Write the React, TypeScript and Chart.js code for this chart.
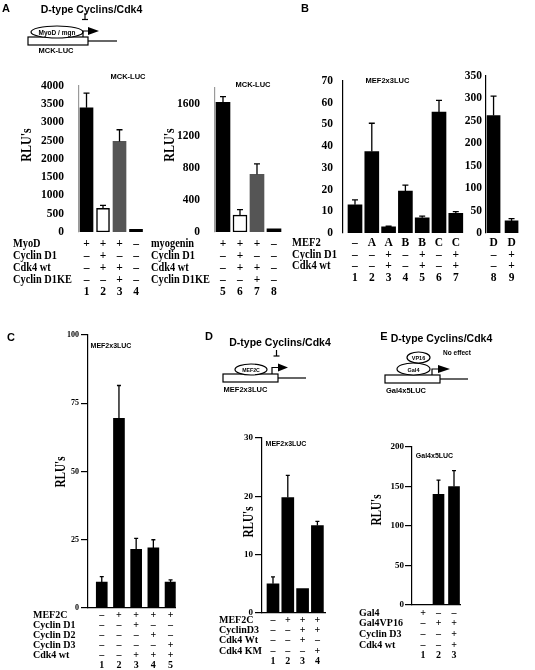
import React, { useEffect, useRef } from "react";
import { Chart, registerables } from "chart.js";

Chart.register(...registerables);

const SERIF = '"Liberation Serif", "Times New Roman", Times, serif';
const SANS = '"Liberation Sans", Arial, Helvetica, sans-serif';
const M = "–";

// ---------- Panel A, left chart: MCK-LUC with MyoD ----------
const a1RowLabels = ["MyoD", "Cyclin D1", "Cdk4 wt", "Cyclin D1KE"];
const a1Rows = [
  ["+", "+", "+", M],
  [M, "+", M, M],
  [M, "+", "+", M],
  [M, M, "+", M],
];
const a1Lanes = ["1", "2", "3", "4"];
const a1Values = [3400, 650, 2480, 70];
const a1Errors: (number | null)[] = [3800, 730, 2800, null];
const a1YTicks = [0, 500, 1000, 1500, 2000, 2500, 3000, 3500, 4000];

// ---------- Panel A, right chart: MCK-LUC with myogenin ----------
const a2RowLabels = ["myogenin", "Cyclin D1", "Cdk4 wt", "Cyclin D1KE"];
const a2Rows = [
  ["+", "+", "+", M],
  [M, "+", M, M],
  [M, "+", "+", M],
  [M, M, "+", M],
];
const a2Lanes = ["5", "6", "7", "8"];
const a2Values = [1620, 210, 720, 40];
const a2Errors: (number | null)[] = [1690, 280, 850, null];
const a2YTicks = [0, 400, 800, 1200, 1600];
const a2YMax = 1800;

// ---------- Panel B, left chart: MEF2x3LUC ----------
const b1RowLabels = ["MEF2", "Cyclin D1", "Cdk4 wt"];
const b1Rows = [
  [M, "A", "A", "B", "B", "C", "C"],
  [M, M, "+", M, "+", M, "+"],
  [M, M, "+", M, "+", M, "+"],
];
const b1Lanes = ["1", "2", "3", "4", "5", "6", "7"];
const b1Values = [13, 37.5, 2.8, 19.3, 7, 55.7, 9];
const b1Errors: (number | null)[] = [15.2, 50.5, 3.1, 22, 7.8, 61, 9.8];
const b1YTicks = [0, 10, 20, 30, 40, 50, 60, 70];

// ---------- Panel B, right chart: MEF2D ----------
const b2Rows = [
  ["D", "D"],
  [M, "+"],
  [M, "+"],
];
const b2Lanes = ["8", "9"];
const b2Values = [262, 27];
const b2Errors: (number | null)[] = [305, 32];
const b2YTicks = [0, 50, 100, 150, 200, 250, 300, 350];

// ---------- Panel C: MEF2x3LUC with MEF2C ----------
const cRowLabels = ["MEF2C", "Cyclin D1", "Cyclin D2", "Cyclin D3", "Cdk4 wt"];
const cRows = [
  [M, "+", "+", "+", "+"],
  [M, M, "+", M, M],
  [M, M, M, "+", M],
  [M, M, M, M, "+"],
  [M, M, "+", "+", "+"],
];
const cLanes = ["1", "2", "3", "4", "5"];
const cValues = [9.5, 69.5, 21.5, 22, 9.5];
const cErrors: (number | null)[] = [11.5, 81.5, 25.5, 25, 10.3];
const cYTicks = [0, 25, 50, 75, 100];

// ---------- Panel D: MEF2x3LUC, CyclinD3 / Cdk4 ----------
const dRowLabels = ["MEF2C", "CyclinD3", "Cdk4 Wt", "Cdk4 KM"];
const dRows = [
  [M, "+", "+", "+"],
  [M, M, "+", "+"],
  [M, M, "+", M],
  [M, M, M, "+"],
];
const dLanes = ["1", "2", "3", "4"];
const dValues = [5, 19.8, 4.2, 15];
const dErrors: (number | null)[] = [6.2, 23.6, null, 15.7];
const dYTicks = [0, 10, 20, 30];

// ---------- Panel E: Gal4x5LUC ----------
const eRowLabels = ["Gal4", "Gal4VP16", "Cyclin D3", "Cdk4 wt"];
const eRows = [
  ["+", M, M],
  [M, "+", "+"],
  [M, M, "+"],
  [M, M, "+"],
];
const eLanes = ["1", "2", "3"];
const eValues = [0, 140, 150];
const eErrors: (number | null)[] = [null, 158, 170];
const eYTicks = [0, 50, 100, 150, 200];

type Spec = {
  left: number;
  top: number;
  width: number;
  height: number;
  axisX: number;
  yTopPx: number;
  zeroPx: number;
  xMin: number;
  xMax: number;
  pitch: number;
  yMax: number;
  yTicks: number[];
  values: number[];
  errors: (number | null)[];
  colors: string[];
  borderWidths: number[];
  rows: string[][];
  lanes: string[];
  rowLabels: string[];
  rowLabelX: number;
  rowScaleX: number;
  fontSize: number;
  lineHeight: number;
  tickPad: number;
  yFont: number;
  yPad: number;
  yTickLen: number;
  yAxisColor: string;
  xAxisLine: boolean;
  barThickness: number;
  capW: number;
};

function BarPanel({ s }: { s: Spec }) {
  const ref = useRef<HTMLCanvasElement | null>(null);
  useEffect(() => {
    if (!ref.current) return;
    const rightPx = s.axisX + (s.xMax - s.xMin) * s.pitch;
    const padRight = s.left + s.width - rightPx;
    const padTop = s.yTopPx - s.top;
    const xH = s.top + s.height - s.zeroPx;
    const yW = s.axisX - s.left;
    const laneLabels = s.lanes.map((lane, i) => [...s.rows.map((r) => r[i]), lane]);

    const errorBars = {
      id: "errorBars",
      afterDatasetsDraw(chart: any) {
        const ctx = chart.ctx;
        const meta = chart.getDatasetMeta(0);
        const ys = chart.scales.y;
        ctx.save();
        ctx.strokeStyle = "#000";
        ctx.lineWidth = 1.3;
        meta.data.forEach((el: any, i: number) => {
          const e = s.errors[i];
          if (e == null) return;
          const yt = ys.getPixelForValue(e);
          ctx.beginPath();
          ctx.moveTo(el.x, el.y);
          ctx.lineTo(el.x, yt);
          ctx.moveTo(el.x - s.capW / 2, yt);
          ctx.lineTo(el.x + s.capW / 2, yt);
          ctx.stroke();
        });
        ctx.restore();
      },
    };

    const rowLabelsPlugin = {
      id: "rowLabels",
      afterDraw(chart: any) {
        const ctx = chart.ctx;
        const xs = chart.scales.x;
        ctx.save();
        ctx.font = `bold ${s.fontSize}px ${SERIF}`;
        ctx.fillStyle = "#000";
        ctx.textBaseline = "middle";
        ctx.textAlign = "left";
        s.rowLabels.forEach((t, i) => {
          const y = xs.top + s.tickPad + s.lineHeight / 2 + i * s.lineHeight;
          ctx.save();
          ctx.translate(s.rowLabelX - s.left, y);
          ctx.scale(s.rowScaleX, 1);
          ctx.fillText(t, 0, 0);
          ctx.restore();
        });
        ctx.restore();
      },
    };

    const chart = new Chart(ref.current, {
      type: "bar",
      data: {
        datasets: [
          {
            data: s.values.map((v, i) => ({ x: i + 1, y: v })),
            backgroundColor: s.colors,
            borderColor: "#000",
            borderWidth: s.borderWidths,
            borderSkipped: false,
            barThickness: s.barThickness,
          } as any,
        ],
      },
      options: {
        animation: false,
        responsive: false,
        devicePixelRatio: 1,
        events: [],
        layout: { padding: { top: padTop, right: padRight, left: 0, bottom: 0 } },
        plugins: {
          legend: { display: false },
          tooltip: { enabled: false },
          title: { display: false },
        },
        scales: {
          x: {
            type: "linear",
            min: s.xMin,
            max: s.xMax,
            offset: false,
            grid: { display: false, drawTicks: false, tickLength: 0, offset: false },
            border: { display: s.xAxisLine, color: "#000", width: 1.2 },
            ticks: {
              autoSkip: false,
              maxRotation: 0,
              minRotation: 0,
              padding: s.tickPad,
              color: "#000",
              font: {
                family: SERIF,
                size: s.fontSize,
                weight: "bold",
                lineHeight: s.lineHeight / s.fontSize,
              },
              callback: (v: any) => laneLabels[Math.round(Number(v)) - 1] ?? "",
            },
            afterBuildTicks: (sc: any) => {
              sc.ticks = s.values.map((_, i) => ({ value: i + 1 }));
            },
            afterFit: (sc: any) => {
              sc.height = xH;
            },
          } as any,
          y: {
            type: "linear",
            min: 0,
            max: s.yMax,
            grid: {
              display: s.yTickLen > 0,
              drawOnChartArea: false,
              drawTicks: s.yTickLen > 0,
              tickLength: s.yTickLen,
              color: "#000",
              lineWidth: 1.2,
            },
            border: { display: true, color: s.yAxisColor, width: 1.2 },
            ticks: {
              padding: s.yPad,
              color: "#000",
              font: { family: SERIF, size: s.yFont, weight: "bold" },
              callback: (v: any) => String(v),
            },
            afterBuildTicks: (sc: any) => {
              sc.ticks = s.yTicks.map((v) => ({ value: v }));
            },
            afterFit: (sc: any) => {
              sc.width = yW;
            },
          } as any,
        },
      },
      plugins: [errorBars, rowLabelsPlugin],
    });
    return () => chart.destroy();
  }, []);
  return (
    <canvas
      ref={ref}
      width={s.width}
      height={s.height}
      style={{ position: "absolute", left: s.left, top: s.top, width: s.width, height: s.height }}
    />
  );
}

const specA1: Spec = {
  left: 8, top: 64, width: 145, height: 236,
  axisX: 79, yTopPx: 76, zeroPx: 232,
  xMin: 0.545, xMax: 4.5, pitch: 16.5,
  yMax: 4000, yTicks: a1YTicks,
  values: a1Values, errors: a1Errors,
  colors: ["#000", "#fff", "#555", "#000"], borderWidths: [0, 1.5, 0, 0],
  rows: a1Rows, lanes: a1Lanes, rowLabels: a1RowLabels, rowLabelX: 13, rowScaleX: 0.9,
  fontSize: 11.5, lineHeight: 12, tickPad: 6,
  yFont: 11.5, yPad: 15, yTickLen: 0, yAxisColor: "#9a9a9a", xAxisLine: false,
  barThickness: 13, capW: 6,
};

const specA2: Spec = {
  left: 148, top: 66, width: 140, height: 234,
  axisX: 215, yTopPx: 81, zeroPx: 232,
  xMin: 0.53, xMax: 4.5, pitch: 17,
  yMax: a2YMax, yTicks: a2YTicks,
  values: a2Values, errors: a2Errors,
  colors: ["#000", "#fff", "#555", "#000"], borderWidths: [0, 1.5, 0, 0],
  rows: a2Rows, lanes: a2Lanes, rowLabels: a2RowLabels, rowLabelX: 151, rowScaleX: 0.9,
  fontSize: 11.5, lineHeight: 12, tickPad: 6,
  yFont: 11.5, yPad: 15, yTickLen: 0, yAxisColor: "#9a9a9a", xAxisLine: false,
  barThickness: 14, capW: 6,
};

const specB1: Spec = {
  left: 289, top: 64, width: 180, height: 225,
  axisX: 343, yTopPx: 76, zeroPx: 233,
  xMin: 0.286, xMax: 7.5, pitch: 16.8,
  yMax: 70, yTicks: b1YTicks,
  values: b1Values, errors: b1Errors,
  colors: b1Values.map(() => "#000"), borderWidths: b1Values.map(() => 0),
  rows: b1Rows, lanes: b1Lanes, rowLabels: b1RowLabels, rowLabelX: 292, rowScaleX: 0.92,
  fontSize: 11.5, lineHeight: 11.7, tickPad: 4,
  yFont: 11.5, yPad: 10, yTickLen: 0, yAxisColor: "#000", xAxisLine: false,
  barThickness: 14, capW: 6,
};

const specB2: Spec = {
  left: 462, top: 64, width: 66, height: 225,
  axisX: 486, yTopPx: 76, zeroPx: 233,
  xMin: 0.58, xMax: 2.5, pitch: 18,
  yMax: 350, yTicks: b2YTicks,
  values: b2Values, errors: b2Errors,
  colors: ["#000", "#000"], borderWidths: [0, 0],
  rows: b2Rows, lanes: b2Lanes, rowLabels: [], rowLabelX: 462, rowScaleX: 1,
  fontSize: 11.5, lineHeight: 11.7, tickPad: 4,
  yFont: 11.5, yPad: 4, yTickLen: 0, yAxisColor: "#000", xAxisLine: false,
  barThickness: 13, capW: 6,
};

const specC: Spec = {
  left: 30, top: 325, width: 152, height: 345,
  axisX: 88, yTopPx: 335, zeroPx: 608,
  xMin: 0.2, xMax: 5.3, pitch: 17.2,
  yMax: 100, yTicks: cYTicks,
  values: cValues, errors: cErrors,
  colors: cValues.map(() => "#000"), borderWidths: cValues.map(() => 0),
  rows: cRows, lanes: cLanes, rowLabels: cRowLabels, rowLabelX: 33, rowScaleX: 1,
  fontSize: 10, lineHeight: 10, tickPad: 2,
  yFont: 8, yPad: 2, yTickLen: 7, yAxisColor: "#000", xAxisLine: true,
  barThickness: 11, capW: 4,
};

const specD: Spec = {
  left: 216, top: 428, width: 115, height: 242,
  axisX: 262, yTopPx: 438, zeroPx: 613,
  xMin: 0.257, xMax: 4.55, pitch: 14.8,
  yMax: 30, yTicks: dYTicks,
  values: dValues, errors: dErrors,
  colors: dValues.map(() => "#000"), borderWidths: dValues.map(() => 0),
  rows: dRows, lanes: dLanes, rowLabels: dRowLabels, rowLabelX: 219, rowScaleX: 1,
  fontSize: 10, lineHeight: 10.4, tickPad: 1.8,
  yFont: 9, yPad: 2, yTickLen: 7, yAxisColor: "#000", xAxisLine: true,
  barThickness: 12, capW: 4,
};

const specE: Spec = {
  left: 356, top: 437, width: 112, height: 233,
  axisX: 412, yTopPx: 447, zeroPx: 605,
  xMin: 0.29, xMax: 3.45, pitch: 15.5,
  yMax: 200, yTicks: eYTicks,
  values: eValues, errors: eErrors,
  colors: eValues.map(() => "#000"), borderWidths: eValues.map(() => 0),
  rows: eRows, lanes: eLanes, rowLabels: eRowLabels, rowLabelX: 359, rowScaleX: 1,
  fontSize: 10, lineHeight: 10.7, tickPad: 2.6,
  yFont: 9, yPad: 1, yTickLen: 7, yAxisColor: "#000", xAxisLine: true,
  barThickness: 11, capW: 4,
};

function Txt(props: {
  x: number;
  y: number;
  size: number;
  serif?: boolean;
  rot?: boolean;
  sx?: number;
  children: React.ReactNode;
}) {
  const { x, y, size, serif, rot, sx, children } = props;
  let tf = "translate(-50%, -50%)";
  if (rot) tf += " rotate(-90deg)";
  if (sx) tf += ` scaleX(${sx})`;
  return (
    <div
      style={{
        position: "absolute",
        left: x,
        top: y,
        transform: tf,
        font: `bold ${size}px ${serif ? SERIF : SANS}`,
        lineHeight: 1,
        whiteSpace: "nowrap",
        color: "#000",
      }}
    >
      {children}
    </div>
  );
}

function Diagrams() {
  const st = { stroke: "#000", strokeWidth: 1.2, fill: "none" } as const;
  const box = { stroke: "#000", strokeWidth: 1.2, fill: "#fff" } as const;
  const tx = (x: number, y: number, size: number, t: string) => (
    <text
      x={x}
      y={y}
      fontSize={size}
      fontWeight="bold"
      fontFamily={SANS}
      textAnchor="middle"
      dominantBaseline="central"
    >
      {t}
    </text>
  );
  return (
    <svg
      width={535}
      height={670}
      style={{ position: "absolute", left: 0, top: 0, pointerEvents: "none" }}
    >
      {/* Panel A promoter */}
      <line x1={85} y1={13} x2={85} y2={19.5} {...st} />
      <line x1={82} y1={19.5} x2={88} y2={19.5} {...st} />
      <rect x={28} y={37} width={60} height={8} {...box} />
      <line x1={88} y1={41} x2={117} y2={41} {...st} />
      <ellipse cx={57} cy={32} rx={26} ry={6} {...box} />
      {tx(57, 32.5, 6.5, "MyoD / mgn")}
      <polyline points="83,37 83,31 88,31" {...st} />
      <polygon points="88,27 88,35 99,31" fill="#000" />

      {/* Panel D promoter */}
      <line x1={276.5} y1={350} x2={276.5} y2={356} {...st} />
      <line x1={273.5} y1={356} x2={279.5} y2={356} {...st} />
      <rect x={223} y={374} width={55} height={8} {...box} />
      <line x1={278} y1={378} x2={306} y2={378} {...st} />
      <ellipse cx={251} cy={369.5} rx={16} ry={5.5} {...box} />
      {tx(251, 370, 5.2, "MEF2C")}
      <polyline points="272,374 272,367.5 278,367.5" {...st} />
      <polygon points="278,363.5 278,371.5 288,367.5" fill="#000" />

      {/* Panel E promoter */}
      <rect x={385} y={375} width={55} height={8} {...box} />
      <line x1={440} y1={379} x2={468} y2={379} {...st} />
      <ellipse cx={413.5} cy={369} rx={16.5} ry={6} {...box} />
      {tx(413.5, 369.5, 5.5, "Gal4")}
      <ellipse cx={418.5} cy={357.5} rx={11.5} ry={5.5} {...box} />
      {tx(418.5, 358, 5.5, "VP16")}
      <polyline points="432,375 432,369 438,369" {...st} />
      <polygon points="438,365 438,373 450,369" fill="#000" />
    </svg>
  );
}

export default function App() {
  return (
    <div
      style={{
        position: "absolute",
        left: 0,
        top: 0,
        width: 535,
        height: 670,
        background: "#fff",
        overflow: "hidden",
      }}
    >
      <BarPanel s={specA1} />
      <BarPanel s={specA2} />
      <BarPanel s={specB1} />
      <BarPanel s={specB2} />
      <BarPanel s={specC} />
      <BarPanel s={specD} />
      <BarPanel s={specE} />
      <Diagrams />

      {/* Panel letters */}
      <Txt x={6} y={8} size={11}>A</Txt>
      <Txt x={305} y={8} size={11}>B</Txt>
      <Txt x={11} y={337} size={11}>C</Txt>
      <Txt x={209} y={336} size={11}>D</Txt>
      <Txt x={384} y={336} size={11}>E</Txt>

      {/* Diagram titles */}
      <Txt x={91.5} y={8.5} size={10.5}>D-type Cyclins/Cdk4</Txt>
      <Txt x={280} y={341.5} size={10.5}>D-type Cyclins/Cdk4</Txt>
      <Txt x={441.5} y={338} size={10.5}>D-type Cyclins/Cdk4</Txt>
      <Txt x={457} y={352.5} size={6.5}>No effect</Txt>

      {/* Promoter names */}
      <Txt x={56} y={50.5} size={7.5}>MCK-LUC</Txt>
      <Txt x={245.5} y={389.5} size={7.5}>MEF2x3LUC</Txt>
      <Txt x={406} y={390.5} size={7.5}>Gal4x5LUC</Txt>

      {/* Chart titles */}
      <Txt x={128} y={76.5} size={7.5}>MCK-LUC</Txt>
      <Txt x={253} y={85} size={7.5}>MCK-LUC</Txt>
      <Txt x={387.5} y={81} size={7.5}>MEF2x3LUC</Txt>
      <Txt x={111} y={344.5} size={7}>MEF2x3LUC</Txt>
      <Txt x={286} y={443} size={7}>MEF2x3LUC</Txt>
      <Txt x={434.5} y={454.5} size={7}>Gal4x5LUC</Txt>

      {/* Y-axis titles */}
      <Txt x={26} y={145} size={15} serif rot sx={0.8}>RLU's</Txt>
      <Txt x={169} y={145} size={15} serif rot sx={0.8}>RLU's</Txt>
      <Txt x={61} y={472} size={14} serif rot sx={0.8}>RLU's</Txt>
      <Txt x={249} y={522} size={14} serif rot sx={0.8}>RLU's</Txt>
      <Txt x={377} y={510} size={14} serif rot sx={0.8}>RLU's</Txt>
    </div>
  );
}
